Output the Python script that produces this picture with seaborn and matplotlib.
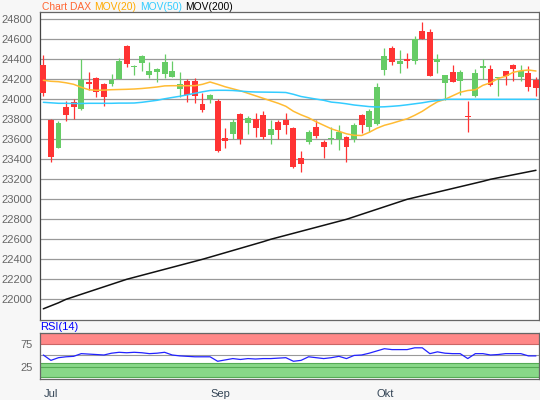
import numpy as np
import pandas as pd
import matplotlib
matplotlib.use("Agg")
import matplotlib.pyplot as plt
import seaborn as sns

sns.set_style("white")
plt.rcParams['font.family'] = ['Liberation Sans', 'DejaVu Sans']

# daily DAX candles, Jul 31 .. Oct 30
opens = [24343, 23793, 23516, 23923, 23970, 23906, 24173, 24213, 24153, 24153,
         24203, 24533, 24320, 24360, 24243, 24276, 24256, 24226, 24106, 24186,
         24183, 23953, 24003, 23983, 23613, 23656, 23853, 23766, 23803, 23843,
         23646, 23773, 23793, 23713, 23413, 23576, 23723, 23576, 23600, 23600,
         23626, 23600, 23843, 23726, 23756, 24296, 24516, 24356, 24403, 24386,
         24686, 24676, 24376, 24166, 24270, 24186, 23836, 24033, 24310, 24303,
         24210, 24283, 24343, 24226, 24266, 24193]
highs = [24443, 23800, 23783, 23983, 24003, 24400, 24273, 24223, 24160, 24253,
         24416, 24543, 24343, 24443, 24370, 24316, 24453, 24383, 24270, 24203,
         24210, 24060, 24053, 24000, 23713, 23800, 23860, 23833, 23863, 23880,
         23790, 23790, 23863, 23723, 23483, 23693, 23793, 23590, 23720, 23743,
         23630, 23760, 23853, 23900, 24163, 24513, 24533, 24496, 24466, 24636,
         24773, 24700, 24453, 24243, 24343, 24293, 23983, 24303, 24400, 24343,
         24226, 24283, 24353, 24343, 24333, 24226]
lows = [24036, 23376, 23510, 23786, 23803, 23893, 24093, 24026, 23936, 24136,
        24200, 24326, 24243, 24286, 24216, 24176, 24216, 24220, 24026, 23976,
        23963, 23876, 23966, 23476, 23510, 23603, 23550, 23656, 23626, 23600,
        23556, 23603, 23656, 23316, 23276, 23556, 23610, 23416, 23556, 23496,
        23376, 23576, 23660, 23676, 23746, 24243, 24346, 24266, 24310, 24353,
        24603, 24233, 24260, 23993, 24176, 24043, 23676, 24026, 24200, 24133,
        24036, 24143, 24186, 24186, 24086, 24036]
closes = [24066, 23426, 23766, 23843, 23926, 24193, 24153, 24076, 24026, 24193,
          24383, 24353, 24330, 24433, 24283, 24303, 24373, 24283, 24153, 24043,
          24036, 23893, 24043, 23486, 23586, 23770, 23600, 23810, 23716, 23626,
          23703, 23696, 23746, 23323, 23356, 23673, 23636, 23526, 23613, 23676,
          23526, 23743, 23743, 23883, 24120, 24433, 24376, 24383, 24386, 24603,
          24603, 24233, 24400, 24243, 24176, 24270, 23826, 24260, 24333, 24143,
          24220, 24236, 24303, 24283, 24126, 24116]

mov20 = [24190, 24180, 24176, 24165, 24150, 24120, 24096, 24090, 24092, 24096,
         24098, 24100, 24103, 24108, 24115, 24123, 24134, 24136, 24136, 24136,
         24136, 24150, 24173, 24150, 24125, 24105, 24085, 24060, 24035, 24010,
         23985, 23960, 23930, 23880, 23845, 23815, 23775, 23740, 23705, 23680,
         23655, 23640, 23638, 23670, 23710, 23740, 23760, 23783, 23805, 23840,
         23880, 23930, 23975, 24000, 24035, 24070, 24088, 24095, 24140, 24165,
         24208, 24230, 24270, 24285, 24293, 24283]
mov50 = [23970, 23965, 23960, 23960, 23958, 23958, 23960, 23960, 23960, 23960,
         23962, 23962, 23963, 23970, 23980, 23990, 24005, 24018, 24030, 24045,
         24060, 24075, 24088, 24090, 24090, 24088, 24082, 24076, 24073, 24072,
         24071, 24070, 24068, 24050, 24028, 24015, 24002, 23990, 23972, 23965,
         23955, 23943, 23935, 23927, 23923, 23925, 23930, 23936, 23945, 23955,
         23965, 23978, 23988, 24000, 24000, 24000, 24000, 24000, 24000, 24000,
         24000, 24000, 24000, 24000, 24000, 24000]
mov200 = [21905, 21935, 21965, 22000, 22025, 22050, 22075, 22100, 22125, 22150,
          22175, 22200, 22220, 22240, 22260, 22280, 22300, 22320, 22340, 22360,
          22380, 22400, 22422, 22444, 22466, 22488, 22510, 22532, 22554, 22576,
          22600, 22620, 22640, 22660, 22680, 22700, 22720, 22740, 22760, 22780,
          22800, 22825, 22850, 22875, 22900, 22925, 22950, 22975, 23000, 23018,
          23036, 23054, 23072, 23090, 23108, 23126, 23144, 23162, 23180, 23200,
          23215, 23230, 23245, 23260, 23275, 23290]
rsi = [51, 39, 45, 47, 48, 54, 53, 52, 51, 55,
       57, 56, 57, 56, 54, 55, 57, 51, 49, 48,
       47, 47, 47, 37, 40, 43, 41, 43, 42, 43,
       43, 44, 45, 37, 39, 47, 45, 43, 45, 48,
       43, 50, 51, 55, 60, 65, 63, 63, 63, 67,
       67, 54, 58, 55, 54, 54, 43, 54, 54, 51,
       52, 54, 54, 54, 49, 49]

month_ticks = [0, 1, 22, 44]
month_labels = ["Jul", "", "Sep", "Okt"]
y_ticks = list(range(22000, 24801, 200))

df = pd.DataFrame({"open": opens, "high": highs, "low": lows, "close": closes,
                   "mov20": mov20, "mov50": mov50, "mov200": mov200, "rsi": rsi})
df["idx"] = np.arange(len(df))

RED = "#ff3333"
GREEN = "#66cc66"

fig = plt.figure(figsize=(5.4, 4.0), dpi=100, facecolor="#f7f7f7")
ax = fig.add_axes([40.3 / 540, 1 - 319.5 / 400, 498.7 / 540, 307.2 / 400])
ax2 = fig.add_axes([40.3 / 540, 1 - 379 / 400, 498.7 / 540, 46 / 400])

for y in y_ticks:
    ax.axhline(y, color="#999999", lw=0.9, zorder=0)

up = df["close"] >= df["open"]
colors = np.where(up, GREEN, RED)
ax.vlines(df["idx"], df["low"], df["high"], colors=colors, lw=0.9, zorder=2)
body_lo = np.minimum(df["open"], df["close"])
body_h = np.maximum(np.abs(df["close"] - df["open"]), 8)
ax.bar(df["idx"], body_h, bottom=body_lo, width=0.78, color=colors, lw=0, zorder=3)

sns.lineplot(data=df, x="idx", y="mov20", ax=ax, color="#ffbb33", lw=1.1, zorder=4)
sns.lineplot(data=df, x="idx", y="mov50", ax=ax, color="#33ccff", lw=1.1, zorder=4)
sns.lineplot(data=df, x="idx", y="mov200", ax=ax, color="#111111", lw=1.1, zorder=4)

ax.set_xlim(-0.4, 65.4)
ax.set_ylim(21798, 24870)
ax.set_yticks(y_ticks)
ax.set_xticks([])
ax.set_xlabel("")
ax.set_ylabel("")
ax.tick_params(axis="y", length=0, pad=5.5, labelsize=8, labelcolor="#666666")
for s in ax.spines.values():
    s.set_color("#666666")
    s.set_linewidth(0.9)
ax.spines["left"].set_color("#444444")

# RSI panel
ax2.axhspan(75, 99.5, color="#ff8888", lw=0, zorder=0)
ax2.axhspan(3, 34, color="#88d888", lw=0, zorder=0)
for y, c in [(75, "#cc6666"), (99.5, "#cc6666"), (50, "#999999"),
             (34, "#55aa55"), (25, "#55aa55"), (3, "#55aa55")]:
    ax2.axhline(y, color=c, lw=0.8, zorder=1)
sns.lineplot(data=df, x="idx", y="rsi", ax=ax2, color="#2222ff", lw=0.9, zorder=3)
ax2.set_xlim(-0.4, 65.4)
ax2.set_ylim(-2.5, 100)
ax2.set_yticks([25, 75])
ax2.set_xticks(month_ticks)
ax2.set_xticklabels(month_labels, ha="left")
ax2.set_xlabel("")
ax2.set_ylabel("")
ax2.tick_params(axis="y", length=0, pad=5.5, labelsize=8, labelcolor="#666666")
ax2.tick_params(axis="x", length=3, width=0.8, color="#334455", pad=4,
                labelsize=8, labelcolor="#334455")
for s in ax2.spines.values():
    s.set_color("#666666")
    s.set_linewidth(0.9)

fig.text(40.5 / 540, 1 - 326.7 / 400, "RSI(14)", color="#0000ff", fontsize=8, va="center")

# legend line at the top, pieces laid one after another
renderer = fig.canvas.get_renderer()
x_px = 41.7
for txt, c in [("Chart DAX", "#ff6633"), ("MOV(20)", "#ffaa00"),
               ("MOV(50)", "#33ccff"), ("MOV(200)", "#000000")]:
    t = fig.text(x_px / 540, 1 - 7.3 / 400, txt, color=c, fontsize=7.4, va="center")
    w = t.get_window_extent(renderer).width
    x_px += w + 3.5

fig.savefig("out.png", dpi=100, facecolor=fig.get_facecolor())
